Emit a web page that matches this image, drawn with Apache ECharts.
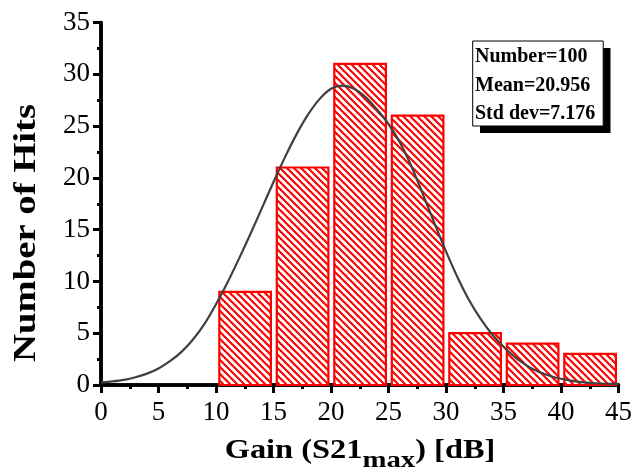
<!DOCTYPE html>
<html>
<head>
<meta charset="utf-8">
<script src="https://cdn.jsdelivr.net/npm/echarts@6/dist/echarts.min.js"></script>
<style>html,body{margin:0;padding:0;background:#fff}#c{width:635px;height:472px}</style>
</head>
<body>
<div id="c"></div>
<script>
// Histogram bins
var binStarts = [10, 15, 20, 25, 30, 35, 40];
var binEnds   = [15, 20, 25, 30, 35, 40, 45];
var counts    = [9, 21, 31, 26, 5, 4, 3];
// Fitted normal curve
var curveX = [0, 1, 2, 3, 4, 5, 6, 7, 8, 9, 10, 11, 12, 13, 14, 15, 16, 17, 18, 19, 20, 21, 22, 23, 24, 25, 26, 27, 28, 29, 30, 31, 32, 33, 34, 35, 36, 37, 38, 39, 40, 41, 42, 43, 44, 45];
var curveY = [0.25, 0.35, 0.5, 0.75, 1.1, 1.6, 2.3, 3.2, 4.4, 5.9, 7.8, 9.9, 12.2, 14.6, 17.1, 19.6, 22.0, 24.2, 26.1, 27.6, 28.6, 28.9, 28.6, 27.8, 26.6, 25.2, 23.4, 21.1, 18.4, 15.6, 12.9, 10.4, 8.2, 6.4, 4.9, 3.7, 2.7, 1.9, 1.3, 0.9, 0.6, 0.4, 0.25, 0.17, 0.12, 0.1];
// Stats text
var statsLines = ['Number=100', 'Mean=20.956', 'Std dev=7.176'];
var xTitle = ['Gain (S21', 'max', ') [dB]'];
var yTitle = 'Number of Hits';

var FONT = "'Liberation Serif','Times New Roman',serif";

// hatch pattern
var p = 7;
var pc = document.createElement('canvas');
pc.width = p; pc.height = p;
var ctx = pc.getContext('2d');
ctx.fillStyle = '#fff'; ctx.fillRect(0, 0, p, p);
ctx.strokeStyle = '#ff0000'; ctx.lineWidth = 2.1;
for (var k = -1; k <= 1; k++) {
  ctx.beginPath(); ctx.moveTo(-1, k * p - 1); ctx.lineTo(p + 1, p + k * p + 1); ctx.stroke();
}

var barData = binStarts.map(function (s, i) { return [s, binEnds[i], counts[i]]; });
var curveData = curveX.map(function (x, i) { return [x, curveY[i]]; });

var chart = echarts.init(document.getElementById('c'), null, {renderer: 'canvas'});
var axisCommon = {
  axisLine: {show: true, lineStyle: {color: '#000', width: 3.5}},
  splitLine: {show: false}
};
var option = {
  animation: false,
  backgroundColor: '#fff',
  grid: {left: 101, right: 16.5, top: 22.5, bottom: 87, containLabel: false, outerBoundsMode: 'none'},
  xAxis: [
    Object.assign({
      type: 'value', min: 0, max: 45, interval: 5, position: 'bottom',
      axisTick: {show: true, inside: false, length: 8, lineStyle: {color: '#000', width: 3}},
      minorTick: {show: true, splitNumber: 2, length: 4, lineStyle: {color: '#000', width: 3}},
      axisLabel: {color: '#000', fontFamily: FONT, fontSize: 27, margin: 14}
    }, axisCommon),
    Object.assign({
      type: 'value', min: 0, max: 45, interval: 5, position: 'top',
      axisTick: {show: false}, axisLabel: {show: false}
    }, axisCommon)
  ],
  yAxis: [
    Object.assign({
      type: 'value', min: 0, max: 35, interval: 5, position: 'left',
      axisTick: {show: true, inside: false, length: 8, lineStyle: {color: '#000', width: 3}},
      minorTick: {show: true, splitNumber: 2, length: 4, lineStyle: {color: '#000', width: 3}},
      axisLabel: {color: '#000', fontFamily: FONT, fontSize: 27, margin: 11}
    }, axisCommon),
    Object.assign({
      type: 'value', min: 0, max: 35, interval: 5, position: 'right',
      axisTick: {show: false}, axisLabel: {show: false}
    }, axisCommon)
  ],
  series: [
    {
      type: 'custom',
      xAxisIndex: 0, yAxisIndex: 0,
      data: barData,
      renderItem: function (params, api) {
        var tl = api.coord([api.value(0), api.value(2)]);
        var br = api.coord([api.value(1), 0]);
        var x0 = tl[0] + 3.3, x1 = br[0] - 2.6;
        return {
          type: 'rect',
          shape: {x: x0, y: tl[1], width: x1 - x0, height: br[1] - tl[1]},
          style: {fill: {image: pc, repeat: 'repeat'}, stroke: '#ff0000', lineWidth: 2.2}
        };
      },
      z: 2
    },
    {
      type: 'line',
      xAxisIndex: 0, yAxisIndex: 0,
      data: curveData,
      smooth: 0.3,
      showSymbol: false,
      lineStyle: {color: '#404040', width: 2.2},
      z: 3
    }
  ],
  graphic: [
    {type: 'rect', shape: {x: 480, y: 48, width: 130.5, height: 85}, style: {fill: '#000'}, z: 10},
    {type: 'rect', shape: {x: 472.7, y: 41, width: 130.5, height: 85}, style: {fill: '#fff', stroke: '#000', lineWidth: 1}, z: 11},
    {type: 'text', x: 475, y: 57, z: 12, style: {text: statsLines[0], font: 'bold 20px ' + FONT, fill: '#000', textAlign: 'left', textVerticalAlign: 'middle'}},
    {type: 'text', x: 475, y: 85.4, z: 12, style: {text: statsLines[1], font: 'bold 20px ' + FONT, fill: '#000', textAlign: 'left', textVerticalAlign: 'middle'}},
    {type: 'text', x: 475, y: 113.7, z: 12, style: {text: statsLines[2], font: 'bold 20px ' + FONT, fill: '#000', textAlign: 'left', textVerticalAlign: 'middle'}},
    {
      type: 'text', x: 360, y: 453, scaleX: 1.2, z: 12,
      style: {
        text: '{a|' + xTitle[0] + '}{b|' + xTitle[1] + '}{a|' + xTitle[2] + '}',
        textAlign: 'center', textVerticalAlign: 'middle',
        rich: {
          a: {fontFamily: FONT, fontWeight: 'bold', fontSize: 27, lineHeight: 30, verticalAlign: 'top', fill: '#000', color: '#000'},
          b: {fontFamily: FONT, fontWeight: 'bold', fontSize: 24, lineHeight: 26, padding: [11, 0, 0, 0], verticalAlign: 'top', fill: '#000', color: '#000'}
        }
      }
    },
    {
      type: 'text', x: 27, y: 233, rotation: Math.PI / 2, scaleX: 1.21, z: 12,
      style: {text: yTitle, font: 'bold 32px ' + FONT, fill: '#000', textAlign: 'center', textVerticalAlign: 'middle'}
    }
  ]
};
chart.setOption(option);
</script>
</body>
</html>
